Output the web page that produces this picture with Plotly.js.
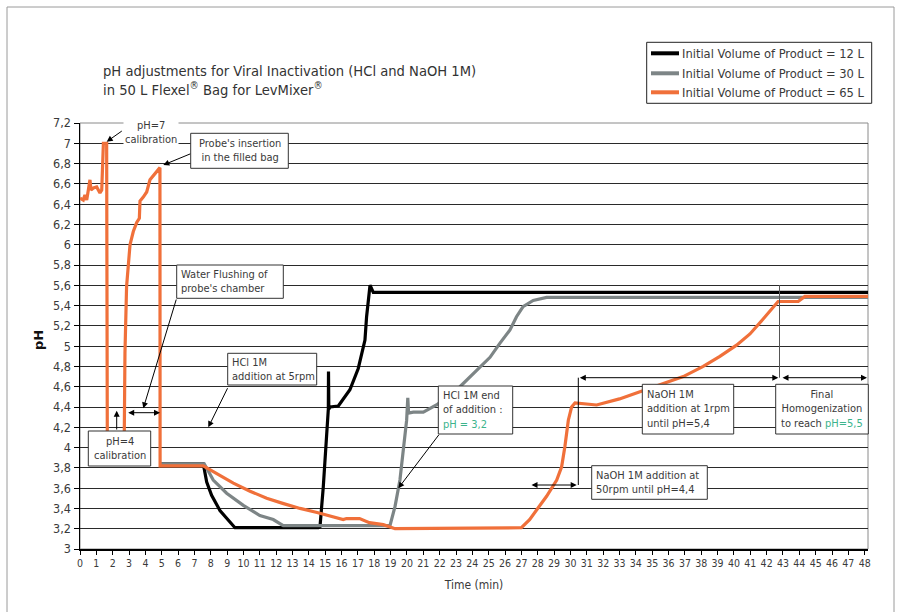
<!DOCTYPE html>
<html>
<head>
<meta charset="utf-8">
<script src="https://cdn.plot.ly/plotly-3.0.1.min.js"></script>
<style>html,body{margin:0;padding:0;background:#fff;}#chart{width:901px;height:612px;}</style>
</head>
<body>
<div id="chart"></div>
<script>
// ---- data ----
const seriesNames = ["Initial Volume of Product = 12 L", "Initial Volume of Product = 30 L", "Initial Volume of Product = 65 L"];
const seriesColors = ["#000000", "#7d8586", "#f0703a"];

const time12 = [4.9, 7.54, 7.75, 8.05, 8.56, 9.07, 9.48, 14.58, 14.68, 14.88, 15.05, 15.19, 15.2, 15.22, 15.3, 15.8, 16.51, 17.02, 17.43, 17.53, 17.74, 17.94, 48.2];
const ph12   = [3.84, 3.84, 3.66, 3.53, 3.38, 3.29, 3.21, 3.21, 3.22, 3.61, 4.01, 4.38, 4.75, 4.38, 4.40, 4.41, 4.57, 4.78, 5.06, 5.29, 5.60, 5.53, 5.53];

const time30 = [4.9, 7.6, 8.15, 8.97, 9.99, 11.0, 11.82, 12.43, 18.96, 19.27, 19.57, 19.78, 19.98, 20.05, 20.1, 20.39, 21.0, 21.8, 22.5, 23.24, 24.26, 25.08, 25.69, 26.3, 26.7, 27.1, 27.72, 28.54, 48.2];
const ph30   = [3.84, 3.84, 3.68, 3.55, 3.43, 3.33, 3.29, 3.23, 3.23, 3.42, 3.68, 4.01, 4.27, 4.49, 4.34, 4.35, 4.35, 4.42, 4.50, 4.60, 4.76, 4.89, 5.03, 5.16, 5.29, 5.39, 5.45, 5.48, 5.48];

const time65 = [0, 0.2, 0.3, 0.41, 0.51, 0.61, 0.67, 0.82, 1.02, 1.22, 1.33, 1.43, 1.63, 1.67, 2.2, 2.71, 2.75, 2.85, 2.96, 3.06, 3.26, 3.47, 3.63, 3.67, 3.87, 4.08, 4.28, 4.59, 4.89, 4.9, 7.54, 8.5, 9.38, 10.4, 11.42, 12.4, 13.46, 14.5, 15.49, 16.1, 16.3, 17.1, 17.7, 18.55, 19.27, 27.0, 27.5, 27.93, 28.54, 29.16, 29.46, 29.66, 29.87, 30.07, 30.28, 31.6, 33.0, 34.25, 35.47, 36.9, 38.12, 39.14, 40.16, 40.98, 41.8, 42.7, 43.93, 44.34, 48.2];
const ph65   = [6.46, 6.44, 6.49, 6.44, 6.54, 6.64, 6.54, 6.56, 6.57, 6.51, 6.54, 7.0, 7.0, 4.15, null, 4.15, 4.93, 5.59, 5.85, 6.0, 6.13, 6.22, 6.26, 6.43, 6.47, 6.52, 6.64, 6.70, 6.76, 3.82, 3.82, 3.73, 3.65, 3.57, 3.50, 3.45, 3.40, 3.36, 3.32, 3.29, 3.30, 3.30, 3.26, 3.24, 3.20, 3.21, 3.29, 3.38, 3.52, 3.68, 3.81, 4.01, 4.27, 4.40, 4.44, 4.42, 4.48, 4.55, 4.62, 4.70, 4.80, 4.90, 5.01, 5.12, 5.27, 5.44, 5.44, 5.49, 5.49];

const titleLines = ["pH adjustments for Viral Inactivation (HCl and NaOH 1M)", "in 50 L Flexel<sup>®</sup> Bag for LevMixer<sup>®</sup>"];

// ---- layout helpers (pixel -> axis / paper units) ----
const L = 80, R = 868, T = 123, B = 549;
const XMAX = 48.2, YMIN = 3, YMAX = 7.2;
const X = px => (px - L) / (R - L) * XMAX;
const Y = py => YMIN + (B - py) / (B - T) * (YMAX - YMIN);
const PX = px => (px - L) / (R - L);
const PY = py => (B - py) / (B - T);

const FONT = '"DejaVu Sans Condensed", "DejaVu Sans", sans-serif';
const TXT = '#3a3a3a';
const GREEN = '#3cb48c';
const BOXFONT = 11;

const traces = [
  {x: time12, y: ph12, name: seriesNames[0], mode: 'lines', line: {color: seriesColors[0], width: 3.2}},
  {x: time30, y: ph30, name: seriesNames[1], mode: 'lines', line: {color: seriesColors[1], width: 3.2}},
  {x: time65, y: ph65, name: seriesNames[2], mode: 'lines', line: {color: seriesColors[2], width: 3.2}, connectgaps: false}
];

const shapes = [];
const annotations = [];

function box(text, x0, y0, x1, y1, align) {
  shapes.push({type: 'rect', xref: 'paper', yref: 'paper', x0: PX(x0), x1: PX(x1), y0: PY(y0), y1: PY(y1),
               line: {color: '#333333', width: 1}, fillcolor: '#ffffff', layer: 'above'});
  const centre = align === 'center';
  annotations.push({
    xref: 'paper', yref: 'paper', x: centre ? PX((x0 + x1) / 2) : PX(x0 + 2.5), y: PY((y0 + y1) / 2),
    xanchor: centre ? 'center' : 'left', yanchor: 'middle', align: centre ? 'center' : 'left',
    text: text, showarrow: false, font: {family: FONT, size: BOXFONT, color: TXT}
  });
}
function arrow(tx, ty, hx, hy, both) {
  annotations.push({
    xref: 'x', yref: 'y', axref: 'x', ayref: 'y', text: '',
    x: X(hx), y: Y(hy), ax: X(tx), ay: Y(ty), showarrow: true,
    arrowhead: 2, arrowsize: 1.2, arrowwidth: 1, arrowcolor: '#000000',
    arrowside: both ? 'end+start' : 'end', standoff: 0, startstandoff: 0
  });
}
function line(x0, y0, x1, y1, color) {
  shapes.push({type: 'line', xref: 'paper', yref: 'paper', x0: PX(x0), x1: PX(x1), y0: PY(y0), y1: PY(y1),
               line: {color: color || '#000', width: 1}, layer: 'above'});
}

// plot-area border and outer frame
shapes.push({type: 'rect', xref: 'paper', yref: 'paper', x0: 0, x1: 1, y0: 0, y1: 1, line: {color: '#8a8a8a', width: 1}, layer: 'below'});
shapes.push({type: 'rect', xref: 'paper', yref: 'paper', x0: PX(7), x1: PX(894), y0: PY(7), y1: PY(640), line: {color: '#9a9a9a', width: 1}, layer: 'below'});

// free text "pH=7 calibration"
annotations.push({xref: 'paper', yref: 'paper', x: PX(151), y: PY(132), xanchor: 'center', yanchor: 'middle',
  text: 'pH=7<br>calibration', showarrow: false, bgcolor: '#ffffff', borderpad: 1, align: 'center',
  font: {family: FONT, size: BOXFONT, color: TXT}});

box("Probe's insertion<br>in the filled bag", 190.7, 133.3, 288.3, 168.3, 'center');
box("Water Flushing of<br>probe's chamber", 176.7, 265, 283.3, 298.3, 'left');
box("pH=4<br>calibration", 88.3, 431, 150.7, 466, 'center');
box("HCl 1M<br>addition at 5rpm", 227.7, 353.3, 316.7, 385, 'left');
box("HCl 1M end<br>of addition :<br><span style='color:" + GREEN + "'>pH = 3,2</span>", 438.3, 386, 512.7, 434, 'left');
box("NaOH 1M addition at<br>50rpm until pH=4,4", 591.7, 465.7, 707.3, 499.3, 'left');
box("NaOH 1M<br>addition at 1rpm<br>until pH=5,4", 642.3, 384.3, 733.7, 434, 'left');
box("Final<br>Homogenization<br>to reach <span style='color:" + GREEN + "'>pH=5,5</span>", 775.7, 384.3, 868.3, 434, 'center');

line(578.3, 377.7, 578.3, 485);
line(779.5, 285, 779.5, 377.7, '#555');

arrow(123.3, 130, 106.7, 141.7);
arrow(191.7, 153.3, 163.3, 165);
arrow(176.7, 298, 143.3, 408.3);
arrow(126.7, 412.7, 160, 412.7, true);
arrow(116.7, 431, 116.7, 410.7);
arrow(228.3, 386.7, 208.3, 427.3);
arrow(440, 433.3, 398.3, 488.3);
arrow(530, 485, 576.7, 485, true);
arrow(578.3, 377.7, 778.3, 377.7, true);
arrow(781, 377.7, 867, 377.7, true);

// legend box (drawn by hand to match the reference frame)
shapes.push({type: 'rect', xref: 'paper', yref: 'paper', x0: PX(646.7), x1: PX(871.7), y0: PY(42.3), y1: PY(103.3),
             line: {color: '#222', width: 1}, fillcolor: '#ffffff', layer: 'above'});
[53.3, 73.3, 92.3].forEach((yy, i) => {
  shapes.push({type: 'line', xref: 'paper', yref: 'paper', x0: PX(651), x1: PX(679), y0: PY(yy), y1: PY(yy),
               line: {color: seriesColors[i], width: 4}, layer: 'above'});
  annotations.push({xref: 'paper', yref: 'paper', x: PX(680), y: PY(yy), xanchor: 'left', yanchor: 'middle',
    text: seriesNames[i], showarrow: false, font: {family: FONT, size: 12.8, color: TXT}});
});

// y-axis title
annotations.push({xref: 'paper', yref: 'paper', x: PX(38), y: PY(340), xanchor: 'center', yanchor: 'middle',
  text: '<b>pH</b>', showarrow: false, textangle: -90, font: {family: '"DejaVu Sans", sans-serif', size: 13, color: '#111'}});

const layout = {
  width: 901, height: 612,
  margin: {l: L, r: 901 - R, t: T, b: 612 - B, pad: 0},
  paper_bgcolor: '#ffffff', plot_bgcolor: '#ffffff',
  separators: ',.',
  font: {family: FONT, color: TXT},
  title: {
    text: titleLines.join('<br>'), x: 103 / 901, xanchor: 'left', xref: 'container',
    y: 1 - 76 / 612, yanchor: 'top', yref: 'container',
    font: {family: FONT, size: 14.6, color: '#333'}
  },
  showlegend: false,
  xaxis: {
    range: [0, XMAX], dtick: 1, tick0: 0, showgrid: false, zeroline: false,
    showline: true, linecolor: '#000', linewidth: 1.5,
    ticks: 'outside', ticklen: 4, tickcolor: '#000', tickwidth: 1,
    tickfont: {family: FONT, size: 10.5, color: TXT},
    title: {text: 'Time (min)', font: {family: FONT, size: 12, color: TXT}, standoff: 12}
  },
  yaxis: {
    range: [YMIN, YMAX], dtick: 0.2, tick0: 3, showgrid: true, gridcolor: '#2a2a2a', gridwidth: 1,
    zeroline: false, showline: true, linecolor: '#000', linewidth: 1.5,
    ticks: 'outside', ticklen: 5, tickcolor: '#000', tickwidth: 1,
    tickfont: {family: FONT, size: 12.5, color: TXT}
  },
  annotations: annotations,
  shapes: shapes
};

Plotly.newPlot('chart', traces, layout, {displayModeBar: false, staticPlot: true});
</script>
</body>
</html>
